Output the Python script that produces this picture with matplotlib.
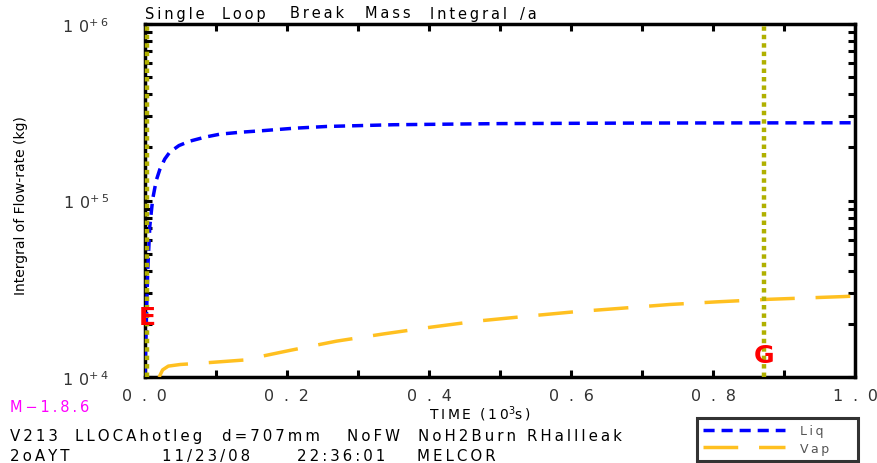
import numpy as np
import matplotlib.pyplot as plt
from matplotlib.ticker import FixedLocator, LogLocator, NullFormatter

# ------------------------------------------------
# data (time in 10^3 s, mass in kg)
t_liq = [0.0, 0.002, 0.004, 0.007, 0.011, 0.016, 0.021, 0.028, 0.035, 0.048,
         0.063, 0.085, 0.106, 0.135, 0.166, 0.21, 0.256, 0.35, 0.5, 0.7, 1.0]
m_liq = [1.0e4, 2.0e4, 4.0e4, 7.2e4, 1.02e5, 1.30e5, 1.50e5, 1.72e5, 1.88e5, 2.05e5,
         2.17e5, 2.29e5, 2.38e5, 2.44e5, 2.49e5, 2.57e5, 2.63e5, 2.69e5, 2.73e5, 2.75e5, 2.76e5]

t_vap = [0.02, 0.025, 0.033, 0.05, 0.079, 0.139, 0.205, 0.27, 0.337, 0.403, 0.469,
         0.541, 0.607, 0.673, 0.739, 0.805, 0.878, 0.983, 1.0]
m_vap = [1.0e4, 1.10e4, 1.155e4, 1.18e4, 1.20e4, 1.25e4, 1.42e4, 1.60e4, 1.76e4, 1.92e4,
         2.08e4, 2.22e4, 2.35e4, 2.46e4, 2.58e4, 2.67e4, 2.76e4, 2.86e4, 2.88e4]

events = ['E', 'G']
t_events = [0.003, 0.872]
y_events = [2.2e4, 1.33e4]

xticks = [0.0, 0.2, 0.4, 0.6, 0.8, 1.0]
xlabels = ['0.0', '0.2', '0.4', '0.6', '0.8', '1.0']
yticks = [1e4, 1e5, 1e6]
ylabels = ['10', '10', '10']
yexps = ['+4', '+5', '+6']

title = ['Single', 'Loop', 'Break', 'Mass', 'Integral', '/a']
title_x = [145, 222, 290, 365, 430, 520]
footer1 = ['V213', 'LLOCAhotleg', 'd=707mm', 'NoFW', 'NoH2Burn', 'RHallleak']
footer1_x = [10, 75, 222, 347, 418, 527]
footer2 = ['2oAYT', '11/23/08', '22:36:01', 'MELCOR']
footer2_x = [10, 162, 297, 417]

SP = '\u2009'


def wide(s, sp=SP):
    """ spread the letters of s with thin spaces (plotter style font) """
    return sp.join(list(s))


##############################################################
W, H = 878, 464
fig = plt.figure(figsize=(W / 100, H / 100), dpi=100)
ax = fig.add_axes([0.165, 0.185, 0.809, 0.761])

olive = '#b0b000'
for te in t_events:
    ax.axvline(te, color=olive, ls=(0, (1, 0.9)), lw=3.2, zorder=4, clip_on=False)

lliq, = ax.plot(t_liq, m_liq, color='#0000ff', lw=2.5, ls=(0, (3.2, 2)), zorder=3)
lvap, = ax.plot(t_vap, m_vap, color='#ffc020', lw=2.5, ls=(0, (10, 6)), zorder=3)

for lab, te, ye in zip(events, t_events, y_events):
    ax.text(te, ye, lab, color='#ff0000', fontsize=18, fontweight='bold',
            ha='center', va='center', zorder=5)

ax.set_yscale('log')
ax.set_xlim(0.0, 1.0)
ax.set_ylim(1e4, 1e6)

ax.xaxis.set_major_locator(FixedLocator(xticks))
ax.set_xticklabels([wide(l, SP * 3) for l in xlabels])
ax.xaxis.set_minor_locator(FixedLocator([0.1, 0.3, 0.5, 0.7, 0.9]))
ax.yaxis.set_major_locator(FixedLocator(yticks))
ax.set_yticklabels([wide(l, SP * 2) + '$^{' + e[0] + '\\,' + e[1] + '}$'
                    for l, e in zip(ylabels, yexps)])
ax.yaxis.set_minor_locator(LogLocator(base=10, subs=np.arange(2, 10)))
ax.yaxis.set_minor_formatter(NullFormatter())

ax.tick_params(which='both', direction='in', top=True, right=True, width=2.2,
               length=5, labelsize=11.5, colors='black', labelcolor='#333333')
ax.tick_params(axis='x', pad=8)
ax.tick_params(axis='y', pad=26)
for s in ax.spines.values():
    s.set_linewidth(2.5)

# title, word by word like the plotter output
for w, x in zip(title, title_x):
    fig.text(x / W, 1 - 14 / H, wide(w), fontsize=10.5, va='center')

ax.set_xlabel(wide('TIME') + '  ' + wide('(10') + '$^3$' + wide('s)'),
              fontsize=10, labelpad=2)
ax.xaxis.set_label_coords(0.472, -0.075)
ax.set_ylabel('Intergral of Flow-rate (kg)', fontsize=10,
              family=['Liberation Sans Narrow', 'DejaVu Sans'])
ax.yaxis.set_label_coords(-0.165, 0.49)

# footer text
fig.text(10 / W, 1 - 407 / H, wide('M\u22121.8.6'), color='#ff00ff', fontsize=10.5,
         va='center')
for w, x in zip(footer1, footer1_x):
    fig.text(x / W, 1 - 437 / H, wide(w), fontsize=10.8, va='center')
for w, x in zip(footer2, footer2_x):
    fig.text(x / W, 1 - 457 / H, wide(w), fontsize=10.8, va='center')

leg = fig.legend([lliq, lvap], [wide('Liq'), wide('Vap')], loc='lower left',
                 bbox_to_anchor=(697 / W, 2 / H, 161 / W, 44 / H), mode='expand',
                 borderaxespad=0, fontsize=9, handlelength=6.5, frameon=True,
                 fancybox=False, borderpad=0.5, labelspacing=0.35, handletextpad=1.2)
leg.get_frame().set_edgecolor('black')
leg.get_frame().set_linewidth(2.2)
for txt in leg.get_texts():
    txt.set_color('#555555')

fig.savefig('out.png', dpi=100)
